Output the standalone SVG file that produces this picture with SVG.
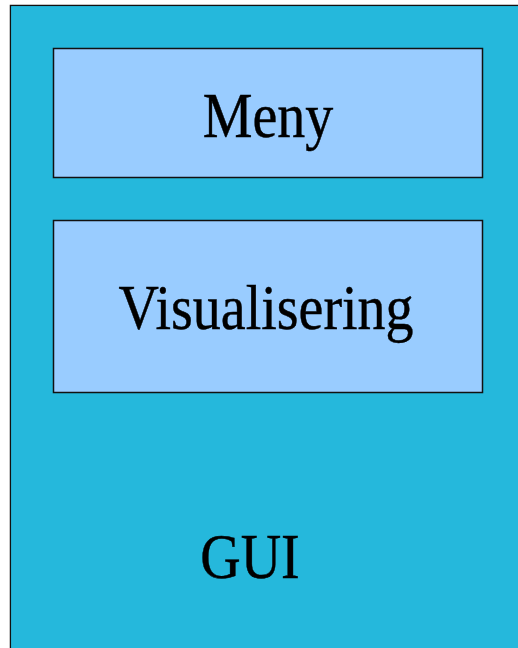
<svg xmlns="http://www.w3.org/2000/svg" width="518" height="648" viewBox="0 0 518 648">
  <style>
    .lbl { font-family: "Liberation Serif", "Times New Roman", serif; font-size: 56px; fill: #000; text-anchor: middle; stroke: #000; stroke-width: 0.4; }
    .box { fill: #99CCFF; stroke: #111; stroke-width: 1.5; }
  </style>
  <rect width="518" height="648" fill="#ffffff"/>
  <g id="gui">
    <path d="M10.5,700 V5.5 H600" fill="#25B8DC" stroke="#111" stroke-width="1.5"/>
    <rect x="11.25" y="6.25" width="600" height="700" fill="#25B8DC"/>
    <text class="lbl" transform="translate(250,578) scale(1,1.12)" x="0" y="0">GUI</text>
  </g>
  <g id="meny">
    <rect class="box" x="53.5" y="48.5" width="429" height="129"/>
    <text class="lbl" transform="translate(268,137) scale(1,1.12)" x="0" y="0">Meny</text>
  </g>
  <g id="visualisering">
    <rect class="box" x="53.5" y="220.5" width="429" height="172"/>
    <text class="lbl" transform="translate(266,329) scale(1,1.12)" x="0" y="0">Visualisering</text>
  </g>
  <g id="connectors"></g>
</svg>
